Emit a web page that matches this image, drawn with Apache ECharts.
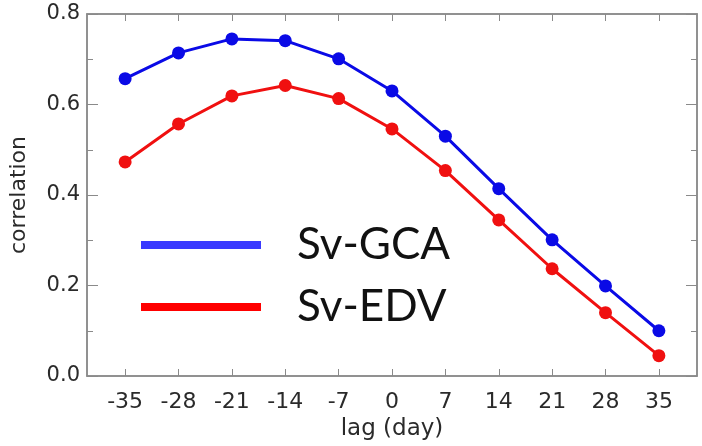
<!DOCTYPE html>
<html>
<head>
<meta charset="utf-8">
<script src="https://cdn.jsdelivr.net/npm/echarts@6/dist/echarts.min.js"></script>
<style>
html,body{margin:0;padding:0;background:#fff;}
#chart{width:702px;height:446px;}
</style>
</head>
<body>
<div id="chart"></div>
<script>
var lags = [-35, -28, -21, -14, -7, 0, 7, 14, 21, 28, 35];
var svGCA = [0.657, 0.714, 0.745, 0.741, 0.701, 0.630, 0.530, 0.414, 0.301, 0.199, 0.100];
var svEDV = [0.473, 0.557, 0.619, 0.642, 0.613, 0.546, 0.454, 0.345, 0.237, 0.140, 0.045];
var yTicks = [0, 0.2, 0.4, 0.6, 0.8];
var seriesNames = ['Sv-GCA', 'Sv-EDV'];

var LFONT = 'Lato, sans-serif';
var TFONT = '"DejaVu Sans", sans-serif';
var axisColor = '#8a8a8a';
var textColor = '#2a2a2a';
function pairs(vals){ return lags.map(function(l,i){ return [l, vals[i]]; }); }

var chart = echarts.init(document.getElementById('chart'));
chart.setOption({
  animation: false,
  backgroundColor: '#fff',
  grid: {left: 86, right: 5, top: 14, bottom: 67, show: true, borderColor: axisColor, borderWidth: 1.5},
  legend: {
    orient: 'vertical', left: 136, top: 215,
    icon: 'rect', itemWidth: 120, itemHeight: 8, itemGap: 12,
    textStyle: {fontSize: 44, fontFamily: LFONT, color: '#111', lineHeight: 50, padding: [0,0,0,31]},
    data: [
      {name: seriesNames[0], itemStyle: {color: '#3a3aff'}},
      {name: seriesNames[1], itemStyle: {color: '#ff0000'}}
    ]
  },
  xAxis: [{
    type: 'value', min: -40, max: 40, position: 'bottom',
    name: 'lag (day)', nameLocation: 'middle', nameGap: 42,
    nameTextStyle: {fontSize: 23, fontFamily: TFONT, color: textColor},
    axisLine: {show: true, onZero: false, lineStyle: {color: axisColor, width: 1.5}},
    axisTick: {show: true, inside: true, length: 7, customValues: lags, lineStyle: {color: axisColor}},
    axisLabel: {customValues: lags, fontSize: 22, fontFamily: TFONT, color: textColor, margin: 15},
    splitLine: {show: false}
  }, {
    type: 'value', min: -40, max: 40, position: 'top',
    axisLine: {show: true, onZero: false, lineStyle: {color: axisColor, width: 1.5}},
    axisTick: {show: true, inside: true, length: 7, customValues: lags, lineStyle: {color: axisColor}},
    axisLabel: {show: false},
    splitLine: {show: false}
  }],
  yAxis: [{
    type: 'value', min: 0, max: 0.8, interval: 0.2, position: 'left',
    name: 'correlation', nameLocation: 'middle', nameGap: 57,
    nameTextStyle: {fontSize: 22, fontFamily: TFONT, color: textColor},
    axisLine: {show: true, onZero: false, lineStyle: {color: axisColor, width: 1.5}},
    axisTick: {show: true, inside: true, length: 11, lineStyle: {color: axisColor}},
    minorTick: {show: true, splitNumber: 2, length: 6, lineStyle: {color: axisColor}},
    axisLabel: {fontSize: 21, fontFamily: TFONT, color: textColor, margin: 7,
      formatter: function(v){ return v.toFixed(1); }},
    splitLine: {show: false}
  }, {
    type: 'value', min: 0, max: 0.8, interval: 0.2, position: 'right',
    axisLine: {show: true, onZero: false, lineStyle: {color: axisColor, width: 1.5}},
    axisTick: {show: true, inside: true, length: 11, lineStyle: {color: axisColor}},
    minorTick: {show: true, splitNumber: 2, length: 6, lineStyle: {color: axisColor}},
    axisLabel: {show: false},
    splitLine: {show: false}
  }],
  series: [{
    name: seriesNames[0], type: 'line', data: pairs(svGCA),
    symbol: 'circle', symbolSize: 13,
    lineStyle: {color: '#0a0ae6', width: 3}, itemStyle: {color: '#0a0ae6'}
  }, {
    name: seriesNames[1], type: 'line', data: pairs(svEDV),
    symbol: 'circle', symbolSize: 13,
    lineStyle: {color: '#f01010', width: 3}, itemStyle: {color: '#f01010'}
  }]
});
</script>
</body>
</html>
